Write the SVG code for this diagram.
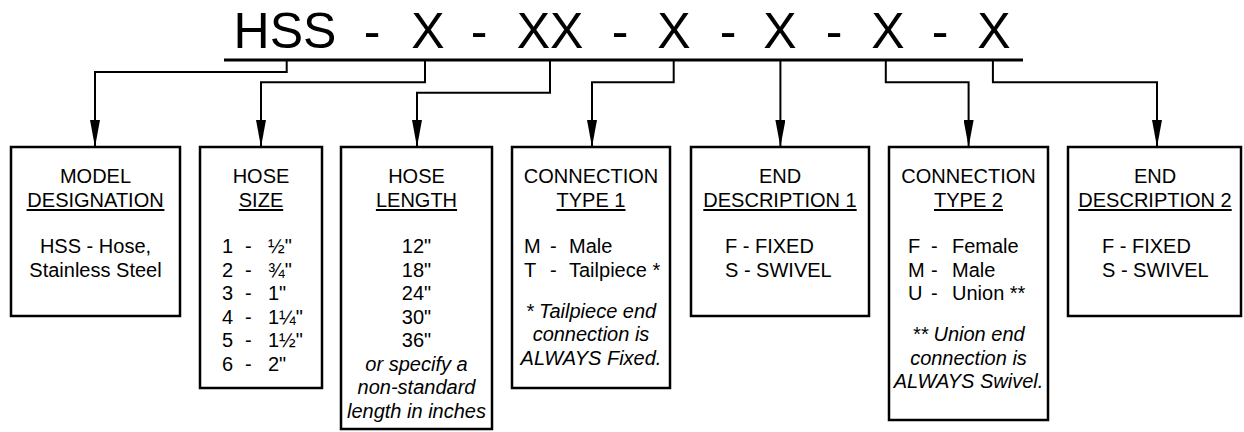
<svg xmlns="http://www.w3.org/2000/svg" width="1244" height="432" viewBox="0 0 1244 432">
<style>
text{font-family:"Liberation Sans",Arial,sans-serif;fill:#000}
.t{font-size:50px;text-anchor:middle}
.h{font-size:20px;text-anchor:middle}
.b{font-size:20px}
.c{font-size:20px;text-anchor:middle}
.i{font-size:20px;font-style:italic;text-anchor:middle}
.box{fill:#fff;stroke:#000;stroke-width:2.5}
.ul{stroke:#000;stroke-width:2}
.con{fill:none;stroke:#000;stroke-width:2}
.bus{stroke:#000;stroke-width:3}
</style>
<defs>
<marker id="ah" viewBox="0 0 27 10" refX="27" refY="5" markerWidth="27" markerHeight="10" markerUnits="userSpaceOnUse" orient="auto">
<path d="M0,0 L27,5 L0,10 z" fill="#000"/>
</marker>
</defs>
<g id="code">
<text class="t" x="285" y="48">HSS</text>
<text class="t" x="372" y="48">-</text>
<text class="t" x="428" y="48">X</text>
<text class="t" x="479" y="48">-</text>
<text class="t" x="550" y="48">XX</text>
<text class="t" x="620" y="48">-</text>
<text class="t" x="674" y="48">X</text>
<text class="t" x="728" y="48">-</text>
<text class="t" x="780" y="48">X</text>
<text class="t" x="834" y="48">-</text>
<text class="t" x="888" y="48">X</text>
<text class="t" x="940" y="48">-</text>
<text class="t" x="994" y="48">X</text>
</g>
<g id="connectors">
<line class="bus" x1="224" y1="60" x2="1023" y2="60"/>
<path class="con" d="M286.7,60 V72 H95 V147" marker-end="url(#ah)"/>
<path class="con" d="M425,60 V82.3 H261 V147" marker-end="url(#ah)"/>
<path class="con" d="M550,60 V92.7 H417 V147" marker-end="url(#ah)"/>
<path class="con" d="M673.7,60 V82.3 H592 V147" marker-end="url(#ah)"/>
<path class="con" d="M780.4,60 V147" marker-end="url(#ah)"/>
<path class="con" d="M885.8,60 V82.3 H968.6 V147" marker-end="url(#ah)"/>
<path class="con" d="M992.9,60 V82.3 H1157 V147" marker-end="url(#ah)"/>
</g>
<g id="model">
<rect class="box" x="11" y="147" width="169" height="169"/>
<text class="h" x="95.5" y="183">MODEL</text>
<text class="h" x="95.5" y="206.5">DESIGNATION</text>
<line class="ul" x1="26.6" y1="210" x2="164.4" y2="210"/>
<text class="c" x="95.5" y="253">HSS - Hose,</text>
<text class="c" x="95.5" y="276.5">Stainless Steel</text>
</g>
<g id="size">
<rect class="box" x="200" y="147" width="122" height="241"/>
<text class="h" x="261" y="183">HOSE</text>
<text class="h" x="261" y="206.5">SIZE</text>
<line class="ul" x1="238.8" y1="210" x2="283.2" y2="210"/>
<text class="b" x="222" y="253">1</text><text class="b" x="245" y="253">-</text><text class="b" x="268" y="253">½"</text>
<text class="b" x="222" y="276.5">2</text><text class="b" x="245" y="276.5">-</text><text class="b" x="268" y="276.5">¾"</text>
<text class="b" x="222" y="300">3</text><text class="b" x="245" y="300">-</text><text class="b" x="268" y="300">1"</text>
<text class="b" x="222" y="323.5">4</text><text class="b" x="245" y="323.5">-</text><text class="b" x="268" y="323.5">1¼"</text>
<text class="b" x="222" y="347">5</text><text class="b" x="245" y="347">-</text><text class="b" x="268" y="347">1½"</text>
<text class="b" x="222" y="370.5">6</text><text class="b" x="245" y="370.5">-</text><text class="b" x="268" y="370.5">2"</text>
</g>
<g id="length">
<rect class="box" x="341" y="147" width="151" height="282"/>
<text class="h" x="416.5" y="183">HOSE</text>
<text class="h" x="416.5" y="206.5">LENGTH</text>
<line class="ul" x1="375.9" y1="210" x2="457.1" y2="210"/>
<text class="c" x="416.5" y="253">12"</text>
<text class="c" x="416.5" y="276.5">18"</text>
<text class="c" x="416.5" y="300">24"</text>
<text class="c" x="416.5" y="323.5">30"</text>
<text class="c" x="416.5" y="347">36"</text>
<text class="i" x="416.5" y="370.5">or specify a</text>
<text class="i" x="416.5" y="394">non-standard</text>
<text class="i" x="416.5" y="417.5">length in inches</text>
</g>
<g id="conn1">
<rect class="box" x="512" y="147" width="158" height="241"/>
<text class="h" x="591" y="183">CONNECTION</text>
<text class="h" x="591" y="206.5">TYPE 1</text>
<line class="ul" x1="556.5" y1="210" x2="625.5" y2="210"/>
<text class="b" x="524" y="253">M</text><text class="b" x="550" y="253">-</text><text class="b" x="569" y="253">Male</text>
<text class="b" x="524" y="276.5">T</text><text class="b" x="550" y="276.5">-</text><text class="b" x="569" y="276.5">Tailpiece *</text>
<text class="i" x="591" y="317.5">* Tailpiece end</text>
<text class="i" x="591" y="341">connection is</text>
<text class="i" x="591" y="364.5">ALWAYS Fixed.</text>
</g>
<g id="end1">
<rect class="box" x="691" y="147" width="178" height="169"/>
<text class="h" x="780" y="183">END</text>
<text class="h" x="780" y="206.5">DESCRIPTION 1</text>
<line class="ul" x1="703.3" y1="210" x2="856.7" y2="210"/>
<text class="b" x="725" y="253">F - FIXED</text>
<text class="b" x="725" y="276.5">S - SWIVEL</text>
</g>
<g id="conn2">
<rect class="box" x="889" y="147" width="159" height="273"/>
<text class="h" x="968.5" y="183">CONNECTION</text>
<text class="h" x="968.5" y="206.5">TYPE 2</text>
<line class="ul" x1="934" y1="210" x2="1003" y2="210"/>
<text class="b" x="908" y="253">F</text><text class="b" x="931" y="253">-</text><text class="b" x="952" y="253">Female</text>
<text class="b" x="908" y="276.5">M</text><text class="b" x="931" y="276.5">-</text><text class="b" x="952" y="276.5">Male</text>
<text class="b" x="908" y="300">U</text><text class="b" x="931" y="300">-</text><text class="b" x="952" y="300">Union **</text>
<text class="i" x="968.5" y="341">** Union end</text>
<text class="i" x="968.5" y="364.5">connection is</text>
<text class="i" x="968.5" y="388">ALWAYS Swivel.</text>
</g>
<g id="end2">
<rect class="box" x="1068" y="147" width="173" height="169"/>
<text class="h" x="1155" y="183">END</text>
<text class="h" x="1155" y="206.5">DESCRIPTION 2</text>
<line class="ul" x1="1078.3" y1="210" x2="1231.7" y2="210"/>
<text class="b" x="1102" y="253">F - FIXED</text>
<text class="b" x="1102" y="276.5">S - SWIVEL</text>
</g>
</svg>
